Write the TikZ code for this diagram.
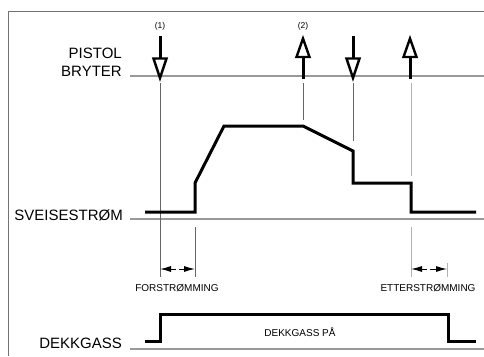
\documentclass[tikz,border=0pt]{standalone}
\usepackage{fontspec}
\setmainfont{Liberation Sans}
\usetikzlibrary{arrows.meta}
\begin{document}
\begin{tikzpicture}[x=1pt,y=-1pt,
 biglabel/.style={font=\fontsize{15}{17}\selectfont, inner sep=0pt},
 smalllabel/.style={font=\fontsize{10}{12}\selectfont, inner sep=0pt},
 tinylabel/.style={font=\fontsize{8.5}{10}\selectfont, inner sep=0pt},
 framestyle/.style={draw=black!55, line width=1pt},
 baseln/.style={draw=black!40, line width=1.2pt},
 signal/.style={line width=3pt, line join=miter},
 guide/.style={draw=black!60, line width=0.8pt},
 guidelt/.style={draw=black!30, line width=1pt},
 arrowshaft/.style={line width=3pt},
 openhead/.style={line width=2.4pt, fill=white, line join=miter},
 dimarrow/.style={line width=1pt, -{Latex[length=11pt,width=6pt]}}]
\useasboundingbox (0,0) rectangle (484,356);
% frame
\draw[framestyle] (8,356) -- (8,11) -- (484,11);
% labels
\node[biglabel, anchor=base east] (pistol) at (122,58) {PISTOL};
\node[biglabel, anchor=base east] (bryter) at (122,76) {BRYTER};
\node[biglabel, anchor=base east] (sveis) at (123,220) {SVEISESTRØM};
\node[biglabel, anchor=base east] (dekk) at (122,348) {DEKKGASS};
% baselines
\coordinate (b1s) at (130,76);  \coordinate (b1e) at (484,76);
\coordinate (b2s) at (130,219); \coordinate (b2e) at (484,219);
\coordinate (b3s) at (130,349); \coordinate (b3e) at (484,349);
\draw[baseln] (b1s) -- (b1e);
\draw[baseln] (b2s) -- (b2e);
\draw[baseln] (b3s) -- (b3e);
% guide lines
\coordinate (g1a) at (160,83);  \coordinate (g1b) at (160,277);
\coordinate (g2a) at (303,83);  \coordinate (g2b) at (303,120);
\coordinate (g3a) at (353,83);  \coordinate (g3b) at (353,141);
\coordinate (g4a) at (411,83);  \coordinate (g4b) at (411,176);
\coordinate (g5a) at (411,227); \coordinate (g5b) at (411,277);
\coordinate (g6a) at (195,227); \coordinate (g6b) at (195,277);
\coordinate (g7a) at (447,263); \coordinate (g7b) at (447,277);
\draw[guide] (g1a) -- (g1b);
\draw[guide] (g2a) -- (g2b);
\draw[guide] (g3a) -- (g3b);
\draw[guidelt] (g4a) -- (g4b);
\draw[guidelt] (g5a) -- (g5b);
\draw[guide] (g6a) -- (g6b);
\draw[guidelt] (g7a) -- (g7b);
% pistol arrows
\node[tinylabel] (l1) at (160,26) {(1)};
\node[tinylabel] (l2) at (303,26) {(2)};
% arrow 1 down
\draw[arrowshaft] (160,36) -- (160,58);
\draw[openhead] (153.5,58.5) -- (166.5,58.5) -- (160,78) -- cycle;
% arrow 2 up
\draw[arrowshaft] (303,57) -- (303,79);
\draw[openhead] (296.5,57) -- (309.5,57) -- (303,38.5) -- cycle;
% arrow 3 down
\draw[arrowshaft] (353,36) -- (353,58);
\draw[openhead] (346.5,58.5) -- (359.5,58.5) -- (353,78) -- cycle;
% arrow 4 up
\draw[arrowshaft] (410,57) -- (410,79);
\draw[openhead] (403.5,57) -- (416.5,57) -- (410,38.5) -- cycle;
% weld current
\draw[signal] (145,212) -- (195,212) -- (195,183) -- (224,126) -- (303,126)
  -- (353,151) -- (353,183) -- (411,183) -- (411,212) -- (476,212);
% gas
\draw[signal] (145,341) -- (160,341) -- (160,314) -- (448,314) -- (448,341) -- (476,341);
\node[smalllabel] (gason) at (300,332) {DEKKGASS PÅ};
% dimensions
\coordinate (d1m) at (176,269); \coordinate (d1l) at (160,269);
\coordinate (d1n) at (179,269); \coordinate (d1r) at (195,269);
\draw[dimarrow] (d1m) -- (d1l);
\draw[dimarrow] (d1n) -- (d1r);
\coordinate (d2m) at (427,269); \coordinate (d2l) at (411,269);
\coordinate (d2n) at (430,269); \coordinate (d2r) at (447,269);
\draw[dimarrow] (d2m) -- (d2l);
\draw[dimarrow] (d2n) -- (d2r);
\node[smalllabel] (forst) at (177,288) {FORSTRØMMING};
\node[smalllabel] (etter) at (428,288) {ETTERSTRØMMING};
\end{tikzpicture}
\end{document}
